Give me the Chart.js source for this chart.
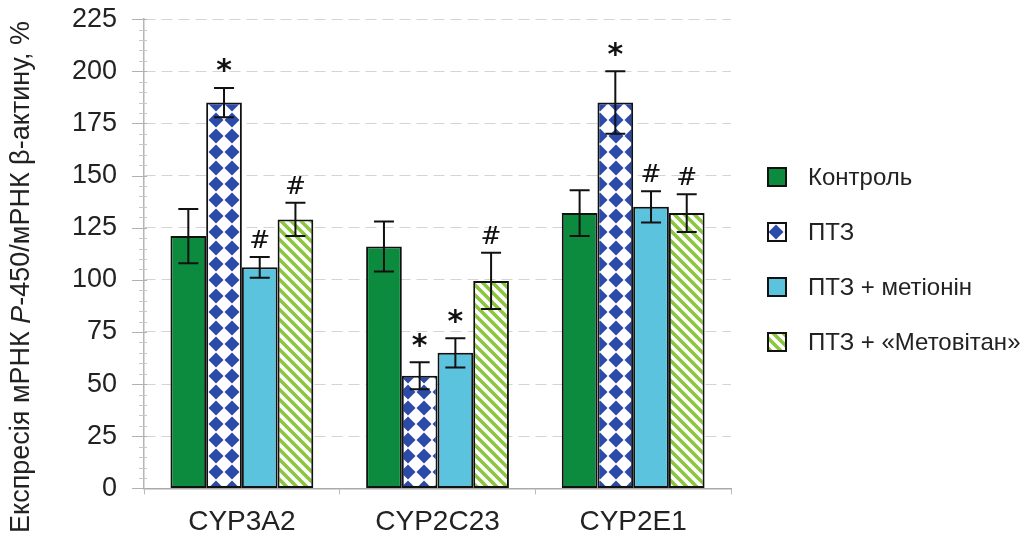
<!DOCTYPE html>
<html>
<head>
<meta charset="utf-8">
<script src="https://cdn.jsdelivr.net/npm/chart.js@4"></script>
<style>
    html, body { margin: 0; padding: 0; background: #fff; }
    #wrap { width: 1025px; height: 545px; }
</style>
</head>
<body>
<div id="wrap"><canvas id="chart"></canvas></div>
<script>
// Data
const categories = ['CYP3A2', 'CYP2C23', 'CYP2E1'];
const seriesNames = ['Контроль', 'ПТЗ', 'ПТЗ + метіонін', 'ПТЗ + «Метовітан»'];

const controlValues = [121, 116, 132];
const ptzValues = [185, 54, 185];
const methionineValues = [106, 65, 135];
const metovitanValues = [129, 99.5, 132];

const controlErrors = [13, 12, 11];
const ptzErrors = [7, 6.5, 15];
const methionineErrors = [5, 7, 7.5];
const metovitanErrors = [8, 13.5, 9];

const controlMarks = ['', '', ''];
const ptzMarks = ['*', '*', '*'];
const methionineMarks = ['#', '*', '#'];
const metovitanMarks = ['#', '#', '#'];

const yMin = 0;
const yMax = 225;
const yStep = 25;
const yMinorStep = 5;

const FONT = '"Liberation Sans", Arial, sans-serif';

// Fill patterns
function diamondPattern(color) {
    const s = 16;
    const c = document.createElement('canvas');
    c.width = s; c.height = s;
    const g = c.getContext('2d');
    g.fillStyle = '#fff';
    g.fillRect(0, 0, s, s);
    g.fillStyle = color;
    g.beginPath();
    g.moveTo(s / 2, 0.5);
    g.lineTo(s - 0.5, s / 2);
    g.lineTo(s / 2, s - 0.5);
    g.lineTo(0.5, s / 2);
    g.closePath();
    g.fill();
    return g.createPattern(c, 'repeat');
}

function stripePattern(color) {
    const s = 10;
    const c = document.createElement('canvas');
    c.width = s; c.height = s;
    const g = c.getContext('2d');
    g.fillStyle = '#fff';
    g.fillRect(0, 0, s, s);
    g.strokeStyle = color;
    g.lineWidth = 3.6;
    g.beginPath();
    for (let k = -s; k <= s; k += s) {
        g.moveTo(k - 1, -1);
        g.lineTo(k + s + 1, s + 1);
    }
    g.stroke();
    return g.createPattern(c, 'repeat');
}

const fills = [
    '#0c8a3e',
    diamondPattern('#2c4aa8'),
    '#5cc3df',
    stripePattern('#8cc63f')
];

const allValues = [controlValues, ptzValues, methionineValues, metovitanValues];
const allErrors = [controlErrors, ptzErrors, methionineErrors, metovitanErrors];
const allMarks = [controlMarks, ptzMarks, methionineMarks, metovitanMarks];

const datasets = seriesNames.map((name, i) => ({
    label: name,
    data: allValues[i],
    errors: allErrors[i],
    marks: allMarks[i],
    backgroundColor: fills[i],
    borderColor: '#111',
    borderWidth: 2,
    borderSkipped: false,
    barPercentage: 1,
    categoryPercentage: 0.73
}));

// Error bars and significance marks
const errorBarPlugin = {
    id: 'errorBars',
    afterDatasetsDraw(chart) {
        const ctx = chart.ctx;
        const y = chart.scales.y;
        ctx.save();
        chart.data.datasets.forEach((ds, i) => {
            const meta = chart.getDatasetMeta(i);
            meta.data.forEach((bar, j) => {
                const v = ds.data[j];
                const e = ds.errors[j];
                const top = y.getPixelForValue(v + e);
                const bottom = y.getPixelForValue(v - e);
                const half = 10;
                ctx.strokeStyle = '#111';
                ctx.lineWidth = 2;
                ctx.beginPath();
                ctx.moveTo(bar.x, top);
                ctx.lineTo(bar.x, bottom);
                ctx.moveTo(bar.x - half, top);
                ctx.lineTo(bar.x + half, top);
                ctx.moveTo(bar.x - half, bottom);
                ctx.lineTo(bar.x + half, bottom);
                ctx.stroke();

                const mark = ds.marks[j];
                if (mark) {
                    ctx.fillStyle = '#111';
                    ctx.textAlign = 'center';
                    ctx.textBaseline = 'alphabetic';
                    let cy;
                    if (mark === '*') {
                        ctx.font = 'bold 30px "DejaVu Sans", sans-serif';
                        cy = top - 22;
                    } else {
                        ctx.font = '25px "DejaVu Serif", serif';
                        cy = top - 18;
                    }
                    const m = ctx.measureText(mark);
                    const base = cy + (m.actualBoundingBoxAscent - m.actualBoundingBoxDescent) / 2;
                    ctx.fillText(mark, bar.x, base);
                }
            });
        });
        ctx.restore();
    }
};

// Major and minor tick marks on the value axis
const yTickMarksPlugin = {
    id: 'yTickMarks',
    afterDraw(chart) {
        const ctx = chart.ctx;
        const y = chart.scales.y;
        const x0 = chart.chartArea.left;
        ctx.save();
        ctx.lineWidth = 1;
        for (let v = yMin; v <= yMax; v += yMinorStep) {
            const major = v % yStep === 0;
            const py = Math.round(y.getPixelForValue(v)) + 0.5;
            ctx.strokeStyle = major ? '#b0b0b0' : '#c8c8c8';
            ctx.beginPath();
            ctx.moveTo(x0 - (major ? 12 : 5), py);
            ctx.lineTo(x0 + 3, py);
            ctx.stroke();
        }
        ctx.restore();
    }
};

// Rotated y title with italic P
const yTitlePlugin = {
    id: 'yTitle',
    afterDraw(chart) {
        const ctx = chart.ctx;
        const parts = [
            { text: 'Експресія мРНК ', font: '27px ' + FONT },
            { text: 'P', font: 'italic 27px ' + FONT },
            { text: '-450/мРНК β-актину, %', font: '27px ' + FONT }
        ];
        ctx.save();
        let total = 0;
        parts.forEach(p => { ctx.font = p.font; p.w = ctx.measureText(p.text).width; total += p.w; });
        ctx.translate(22, 277);
        ctx.rotate(-Math.PI / 2);
        ctx.fillStyle = '#222';
        ctx.textBaseline = 'middle';
        ctx.textAlign = 'left';
        let x = -total / 2;
        parts.forEach(p => {
            ctx.font = p.font;
            ctx.fillText(p.text, x, 0);
            x += p.w;
        });
        ctx.restore();
    }
};

// Legend on the right
const sideLegendPlugin = {
    id: 'sideLegend',
    afterDraw(chart) {
        const ctx = chart.ctx;
        const left = chart.chartArea.right + 37;
        const firstY = 177;
        const gap = 55;
        const box = 18;
        ctx.save();
        chart.data.datasets.forEach((ds, i) => {
            const cy = firstY + i * gap;
            ctx.fillStyle = ds.backgroundColor;
            ctx.fillRect(left, cy - box / 2, box, box);
            ctx.strokeStyle = '#111';
            ctx.lineWidth = 2;
            ctx.strokeRect(left, cy - box / 2, box, box);
            ctx.fillStyle = '#222';
            ctx.font = '24px ' + FONT;
            ctx.textAlign = 'left';
            ctx.textBaseline = 'middle';
            ctx.fillText(ds.label, left + 40, cy + 1);
        });
        ctx.restore();
    }
};

const ctx = document.getElementById('chart').getContext('2d');
new Chart(ctx, {
    type: 'bar',
    data: {
        labels: categories,
        datasets: datasets
    },
    options: {
        responsive: true,
        maintainAspectRatio: false,
        animation: false,
        layout: {
            padding: { left: 67, right: 294, top: 0, bottom: -5 }
        },
        plugins: {
            legend: { display: false },
            tooltip: { enabled: false }
        },
        scales: {
            x: {
                grid: {
                    display: true,
                    drawOnChartArea: false,
                    offset: true,
                    tickLength: 6,
                    tickColor: '#bbb'
                },
                border: { color: '#aaa', width: 1.5 },
                ticks: {
                    color: '#222',
                    font: { family: FONT, size: 28 },
                    padding: 11
                }
            },
            y: {
                min: yMin,
                max: yMax,
                grid: {
                    color: '#d4d4d4',
                    tickColor: 'rgba(0,0,0,0)',
                    tickLength: 22,
                    lineWidth: 1
                },
                border: { color: '#b5b5b5', width: 1.5, dash: [11, 6] },
                ticks: {
                    stepSize: yStep,
                    color: '#222',
                    font: { family: FONT, size: 27, lineHeight: 1.05 },
                    padding: 5
                }
            }
        }
    },
    plugins: [errorBarPlugin, yTickMarksPlugin, yTitlePlugin, sideLegendPlugin]
});
</script>
</body>
</html>
